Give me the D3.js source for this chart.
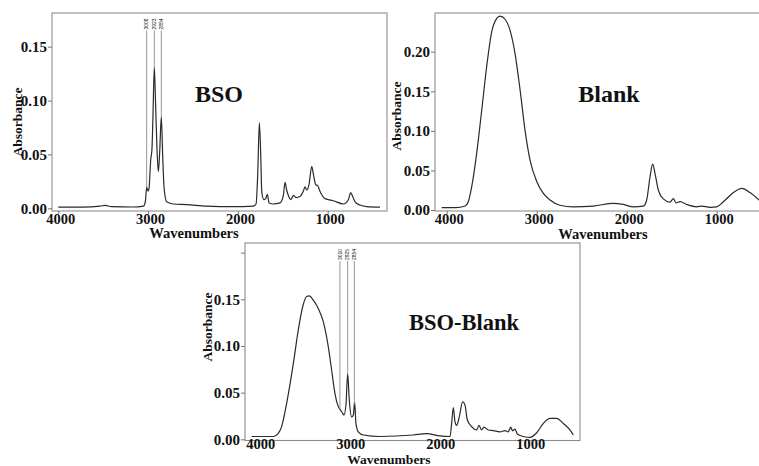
<!DOCTYPE html>
<html>
<head>
<meta charset="utf-8">
<script src="https://cdn.jsdelivr.net/npm/d3@7"></script>
<style>
  html, body { margin: 0; padding: 0; background: #fff; }
  svg { display: block; }
  text { font-family: "Liberation Serif", "Times New Roman", serif; font-weight: bold; fill: #111; }
</style>
</head>
<body>
<div id="chart"></div>
<script>
// ---------------- DATA ----------------
const xTickValues = [4000, 3000, 2000, 1000];
const xAxisTitle = "Wavenumbers";
const yAxisTitle = "Absorbance";

// BSO spectrum
const bsoWavenumber = [4000, 3722, 3536, 3480, 3406, 3165, 3053, 3031, 3016, 3001, 2990, 2971, 2957, 2946, 2931, 2916, 2901, 2886, 2871, 2853, 2838, 2823, 2793, 2719, 2570, 2348, 2051, 1828, 1798, 1780, 1761, 1746, 1734, 1711, 1691, 1672, 1653, 1605, 1531, 1494, 1475, 1457, 1434, 1412, 1382, 1353, 1308, 1271, 1252, 1234, 1208, 1178, 1156, 1134, 1111, 1085, 1030, 937, 825, 770, 744, 722, 695, 640, 565, 417];
const bsoAbsorbance = [0.001, 0.001, 0.002, 0.0028, 0.0015, 0.0012, 0.002, 0.006, 0.0195, 0.016, 0.018, 0.045, 0.055, 0.085, 0.131, 0.095, 0.055, 0.034, 0.052, 0.085, 0.05, 0.02, 0.006, 0.004, 0.0035, 0.002, 0.0015, 0.002, 0.004, 0.03, 0.0795, 0.05, 0.015, 0.008, 0.009, 0.013, 0.005, 0.004, 0.005, 0.012, 0.024, 0.017, 0.011, 0.008, 0.012, 0.01, 0.011, 0.016, 0.02, 0.017, 0.022, 0.039, 0.03, 0.022, 0.021, 0.0155, 0.009, 0.007, 0.004, 0.008, 0.0145, 0.011, 0.006, 0.003, 0.0015, 0.001];
const bsoYTicks = [0.00, 0.05, 0.10, 0.15];
const bsoPeakPositions = [3016, 2931, 2853];
const bsoPeakLabels = ["3008", "2923", "2854"];

// Blank spectrum
const blankWavenumber = [4056, 3900, 3796, 3760, 3722, 3667, 3611, 3556, 3500, 3444, 3407, 3352, 3296, 3241, 3185, 3130, 3074, 3000, 2926, 2852, 2741, 2593, 2370, 2148, 2037, 1926, 1815, 1778, 1741, 1711, 1685, 1648, 1593, 1519, 1481, 1452, 1407, 1333, 1222, 1167, 1074, 1000, 926, 815, 722, 630, 530];
const blankAbsorbance = [0.003, 0.003, 0.005, 0.0105, 0.0295, 0.0716, 0.126, 0.181, 0.225, 0.242, 0.245, 0.241, 0.227, 0.198, 0.152, 0.101, 0.063, 0.036, 0.021, 0.0126, 0.006, 0.004, 0.005, 0.0084, 0.007, 0.004, 0.005, 0.0126, 0.042, 0.058, 0.046, 0.025, 0.014, 0.01, 0.0143, 0.009, 0.0105, 0.007, 0.004, 0.005, 0.0034, 0.004, 0.0105, 0.022, 0.0274, 0.022, 0.0126];
const blankYTicks = [0.00, 0.05, 0.10, 0.15, 0.20];

// BSO-Blank difference spectrum
const diffWavenumber = [4074, 3833, 3778, 3741, 3685, 3611, 3556, 3507, 3463, 3433, 3389, 3333, 3278, 3222, 3185, 3148, 3111, 3085, 3067, 3048, 3026, 3007, 2989, 2963, 2944, 2930, 2915, 2889, 2833, 2648, 2278, 2130, 1981, 1870, 1852, 1833, 1815, 1796, 1767, 1730, 1704, 1678, 1630, 1574, 1548, 1519, 1493, 1444, 1389, 1315, 1259, 1222, 1196, 1174, 1148, 1122, 1056, 981, 907, 833, 759, 685, 611, 537, 500];
const diffAbsorbance = [0.003, 0.003, 0.0064, 0.0136, 0.0386, 0.081, 0.117, 0.142, 0.153, 0.1536, 0.149, 0.14, 0.126, 0.099, 0.074, 0.049, 0.035, 0.031, 0.0286, 0.026, 0.037, 0.07, 0.042, 0.024, 0.026, 0.04, 0.017, 0.008, 0.0046, 0.003, 0.0046, 0.006, 0.0036, 0.003, 0.017, 0.034, 0.019, 0.015, 0.024, 0.04, 0.037, 0.021, 0.0136, 0.01, 0.015, 0.01, 0.013, 0.01, 0.0093, 0.008, 0.0093, 0.008, 0.013, 0.009, 0.011, 0.0057, 0.003, 0.002, 0.007, 0.017, 0.0225, 0.0225, 0.017, 0.01, 0.0046];
const diffYTicks = [0.00, 0.05, 0.10, 0.15, 0.20];
const diffYTickLabels = ["0.00", "0.05", "0.10", "0.15", ""];
const diffPeakPositions = [3093, 3007, 2933];
const diffPeakLabels = ["3010", "2925", "2854"];

const panelTitles = ["BSO", "Blank", "BSO-Blank"];

// ---------------- LAYOUT ----------------
const W = 759, H = 466;
const svg = d3.select("#chart").append("svg").attr("width", W).attr("height", H);
svg.append("rect").attr("width", W).attr("height", H).attr("fill", "#fff");

const panels = [
  {
    title: panelTitles[0], wn: bsoWavenumber, ab: bsoAbsorbance,
    yTicks: bsoYTicks, yLabels: null,
    peaks: bsoPeakPositions, peakLabels: bsoPeakLabels,
    frame: { x0: 52, y0: 13, x1: 387, y1: 211 },
    xRange: [58.3, 327.7], yDomain: [0, 0.15], yRange: [208.3, 46.7],
    titlePos: [219, 101.5], titleSize: 24,
    absPos: [17.5, 122], wavPos: [194, 238], tickBase: 224, wavSize: 14.5,
    peakTop: 29.5
  },
  {
    title: panelTitles[1], wn: blankWavenumber, ab: blankAbsorbance,
    yTicks: blankYTicks, yLabels: null, peaks: [], peakLabels: [],
    frame: { x0: 435, y0: 13, x1: 790, y1: 211 },
    xRange: [446.7, 716.7], yDomain: [0, 0.20], yRange: [210, 51.7],
    titlePos: [609, 102], titleSize: 24,
    absPos: [396, 116], wavPos: [603, 238.5], tickBase: 224, wavSize: 14.5,
    peakTop: 0
  },
  {
    title: panelTitles[2], wn: diffWavenumber, ab: diffAbsorbance,
    yTicks: diffYTicks, yLabels: diffYTickLabels,
    peaks: diffPeakPositions, peakLabels: diffPeakLabels,
    frame: { x0: 245, y0: 243, x1: 580, y1: 440.5 },
    xRange: [258.3, 528.3], yDomain: [0, 0.15], yRange: [439.3, 299.3],
    titlePos: [464, 330], titleSize: 22.5,
    absPos: [207, 327], wavPos: [389, 464], tickBase: 448.5, wavSize: 13.5,
    peakTop: 260
  }
];

panels.forEach(p => {
  const g = svg.append("g");
  const x = d3.scaleLinear().domain([4000, 1000]).range(p.xRange);
  const y = d3.scaleLinear().domain(p.yDomain).range(p.yRange);
  const f = p.frame;

  // frame
  g.append("rect")
    .attr("x", f.x0).attr("y", f.y0)
    .attr("width", f.x1 - f.x0).attr("height", f.y1 - f.y0)
    .attr("fill", "none").attr("stroke", "#8c8c8c").attr("stroke-width", 1.1);

  // y axis
  const yAxis = d3.axisLeft(y).tickValues(p.yTicks).tickSize(4).tickPadding(1)
    .tickFormat((d, i) => p.yLabels ? p.yLabels[i] : d3.format(".2f")(d));
  const ya = g.append("g").attr("transform", `translate(${f.x0},0)`).call(yAxis);
  ya.select(".domain").remove();
  ya.selectAll(".tick line").attr("stroke", "#777");
  ya.selectAll(".tick text").style("font-size", "15px").attr("fill", "#111")
    .style("font-family", "'Liberation Serif', serif").style("font-weight", "bold");

  // x axis
  const xAxis = d3.axisBottom(x).tickValues(xTickValues).tickSize(3).tickFormat(d3.format("d"));
  const xa = g.append("g").attr("transform", `translate(0,${f.y1})`).call(xAxis);
  xa.select(".domain").remove();
  xa.selectAll(".tick line").attr("stroke", "#777");
  xa.selectAll(".tick text")
    .attr("y", p.tickBase - f.y1).attr("dy", 0).attr("dx", 2)
    .style("font-size", "14.5px").attr("fill", "#111")
    .style("font-family", "'Liberation Serif', serif").style("font-weight", "bold");

  // clip for the curve
  const clipId = "clip" + p.title.replace(/[^A-Za-z]/g, "");
  svg.append("clipPath").attr("id", clipId).append("rect")
    .attr("x", f.x0).attr("y", f.y0).attr("width", f.x1 - f.x0).attr("height", f.y1 - f.y0);

  const data = p.wn.map((w, i) => ({ w: w, a: p.ab[i] }));
  const line = d3.line().x(d => x(d.w)).y(d => y(d.a)).curve(d3.curveMonotoneX);
  g.append("path").datum(data)
    .attr("clip-path", `url(#${clipId})`)
    .attr("d", line).attr("fill", "none")
    .attr("stroke", "#2a2a2a").attr("stroke-width", 1.2).attr("stroke-linejoin", "round");

  // peak markers
  const sorted = data.slice().sort((a, b) => a.w - b.w);
  const bis = d3.bisector(d => d.w).left;
  const valueAt = w => {
    const i = Math.max(1, Math.min(sorted.length - 1, bis(sorted, w)));
    const a = sorted[i - 1], b = sorted[i];
    const t = (w - a.w) / (b.w - a.w);
    return a.a + t * (b.a - a.a);
  };
  p.peaks.forEach((w, i) => {
    const px = x(w);
    g.append("line")
      .attr("x1", px).attr("x2", px)
      .attr("y1", p.peakTop + 1).attr("y2", y(valueAt(w)))
      .attr("stroke", "#8a8a8a").attr("stroke-width", 0.9);
    g.append("text")
      .attr("transform", `translate(${px + 1.8},${p.peakTop}) rotate(-90)`)
      .attr("text-anchor", "start")
      .style("font-size", "5px").style("font-weight", "normal")
      .style("font-family", "'Liberation Sans', Arial, sans-serif")
      .attr("fill", "#555")
      .text(p.peakLabels[i]);
  });

  // titles
  g.append("text")
    .attr("x", p.titlePos[0]).attr("y", p.titlePos[1])
    .attr("text-anchor", "middle").style("font-size", p.titleSize + "px")
    .text(p.title);

  g.append("text")
    .attr("transform", `translate(${p.absPos[0] + 4.5},${p.absPos[1]}) rotate(-90)`)
    .attr("text-anchor", "middle").style("font-size", "13.5px")
    .text(yAxisTitle);

  g.append("text")
    .attr("x", p.wavPos[0]).attr("y", p.wavPos[1])
    .attr("text-anchor", "middle").style("font-size", p.wavSize + "px")
    .text(xAxisTitle);
});
</script>
</body>
</html>
